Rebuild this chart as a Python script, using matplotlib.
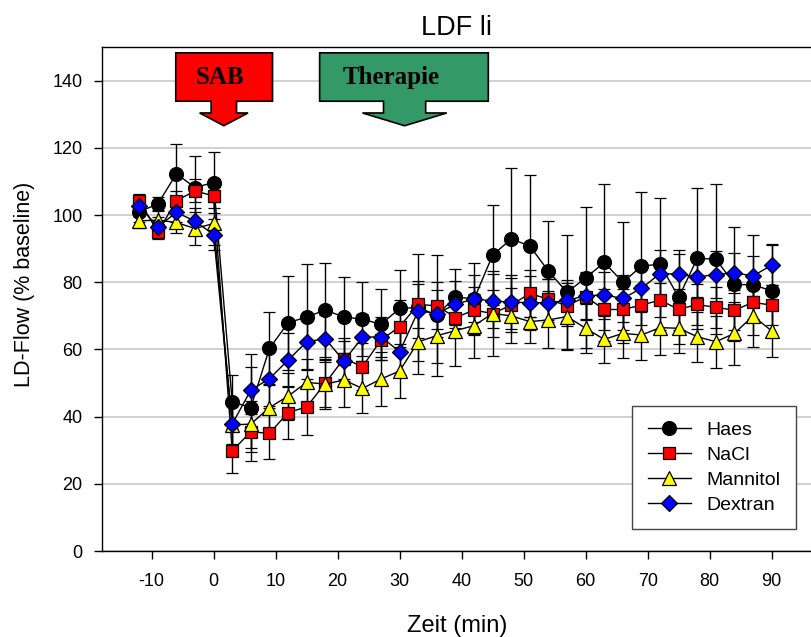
import matplotlib
matplotlib.use("Agg")
import matplotlib.pyplot as plt
from matplotlib.lines import Line2D
from matplotlib.patches import Polygon

plt.rcParams["font.family"] = ["Liberation Sans", "DejaVu Sans"]
plt.rcParams["axes.unicode_minus"] = False

# sampling times (min), SAB at t = 0
zeit = [-12, -9, -6, -3, 0, 3, 6, 9, 12, 15, 18, 21, 24, 27, 30, 33, 36, 39,
        42, 45, 48, 51, 54, 57, 60, 63, 66, 69, 72, 75, 78, 81, 84, 87, 90]

haes = [101.0, 103.3, 112.3, 108.2, 109.7, 44.4, 42.7, 60.3, 67.9, 69.7, 71.7,
        69.7, 69.0, 67.5, 72.2, 72.5, 70.2, 75.7, 75.0, 88.1, 92.9, 90.8, 83.3,
        77.0, 81.3, 85.9, 80.0, 84.8, 85.4, 75.5, 87.1, 86.9, 79.4, 79.2, 77.5]
haes_err = [3, 2, 9, 9.4, 9, 8, 15.8, 11, 14, 15.7, 14, 12, 11, 10.5, 11.6, 16,
            18, 8.4, 10.6, 15, 21, 21, 15, 17, 21, 23.4, 18, 22, 19.6, 14, 21,
            22.4, 17, 15, 13.8]

nacl = [104.3, 95.0, 104.3, 107.2, 105.7, 29.8, 35.5, 35.0, 41.2, 42.9, 49.9,
        57.3, 54.9, 62.8, 66.8, 73.4, 73.0, 69.5, 71.7, 70.7, 73.2, 76.7, 74.9,
        73.0, 75.7, 71.9, 71.9, 73.2, 74.7, 71.9, 73.4, 72.5, 71.7, 74.0, 73.2]
nacl_err = [2, 2, 3, 3.4, 3.5, 6.5, 6, 7.7, 7.8, 8.4, 7, 6, 7, 6, 8, 7, 7, 6,
            7, 7, 8, 7, 6, 6, 7, 6, 6, 6, 5, 6, 6, 6, 6, 5, 6]

mannitol = [98.3, 98.5, 97.8, 96.0, 97.5, 37.5, 37.8, 42.7, 46.1, 50.2, 49.7,
            50.9, 48.4, 51.2, 53.6, 62.3, 64.1, 65.6, 67.1, 70.7, 70.0, 68.3,
            68.8, 69.8, 66.3, 63.0, 64.8, 64.3, 66.5, 66.3, 63.8, 62.3, 64.8,
            70.0, 65.5]
mannitol_err = [2, 3, 3, 5, 6.5, 6, 7, 7, 7, 7, 7.5, 8, 7.2, 8, 8, 9.7, 8,
                10.5, 9.5, 12.7, 8.2, 6.3, 8.5, 10, 7.3, 7, 7.2, 7.5, 8.2, 7.5,
                7.5, 7.7, 9.4, 9.4, 7.7]

dextran = [102.7, 96.5, 100.8, 98.2, 94.2, 37.8, 47.9, 51.3, 56.8, 62.3, 63.2,
           56.6, 63.6, 63.8, 59.3, 71.5, 70.7, 73.4, 75.1, 74.4, 74.1, 73.9,
           73.9, 74.6, 76.0, 76.2, 75.2, 78.2, 82.6, 82.4, 81.6, 82.3, 82.8,
           81.9, 85.1]
dextran_err = [3, 3, 3, 4, 4.5, 6, 7, 8, 8, 8, 7, 6, 7, 6, 7, 8, 7, 7, 7, 8,
               8, 8, 7, 6, 7, 7, 7, 7, 7, 6, 6, 7, 6, 6, 6]

series = [
    ("Haes", haes, haes_err, "o", "black", 10),
    ("NaCl", nacl, nacl_err, "s", "#ff0000", 8.5),
    ("Mannitol", mannitol, mannitol_err, "^", "#ffff00", 10),
    ("Dextran", dextran, dextran_err, "D", "#0000ff", 8.5),
]


def callout(ax, label, x0, x1, y0, y1, stem_c, stem_hw, stem_y, head_hw, tip_y,
            color, text_x):
    """Box with a downward arrow below it, in data coordinates."""
    pts = [(x0, y1), (x1, y1), (x1, y0),
           (stem_c + stem_hw, y0), (stem_c + stem_hw, stem_y),
           (stem_c + head_hw, stem_y), (stem_c, tip_y),
           (stem_c - head_hw, stem_y), (stem_c - stem_hw, stem_y),
           (stem_c - stem_hw, y0), (x0, y0)]
    ax.add_patch(Polygon(pts, closed=True, facecolor=color, edgecolor="black",
                         linewidth=1.2, zorder=6, clip_on=False))
    ax.text(text_x, (y0 + y1) / 2, label, ha="center", va="center",
            fontsize=18, fontweight="bold",
            family=["Liberation Serif", "DejaVu Serif"], zorder=7)


fig = plt.figure(figsize=(8.12, 6.37), dpi=100)
ax = fig.add_axes([0.1256, 0.135, 0.8744, 0.791])

handles = []
for name, vals, err, mk, col, ms in series:
    ax.errorbar(zeit, vals, yerr=err, color="black", linewidth=1.0,
                elinewidth=1.0, capsize=4, capthick=1.0, marker=mk, markersize=ms,
                markerfacecolor=col, markeredgecolor="black", markeredgewidth=0.9,
                zorder=3)
    handles.append(Line2D([], [], color="black", linewidth=1.0, marker=mk,
                          markersize=ms, markerfacecolor=col,
                          markeredgecolor="black", markeredgewidth=0.9,
                          label=name))

ax.set_xlim(-18, 96.5)
ax.set_ylim(0, 150)
ax.set_xticks([-10, 0, 10, 20, 30, 40, 50, 60, 70, 80, 90])
ax.set_yticks([0, 20, 40, 60, 80, 100, 120, 140])
ax.yaxis.grid(True, color="#c8c8c8", linewidth=1.2, zorder=0)
ax.set_axisbelow(True)
ax.tick_params(direction="out", length=6, width=1.0, labelsize=13,
               top=False, right=False)
ax.tick_params(axis="x", pad=10)
ax.tick_params(axis="y", pad=8)
for s in ax.spines.values():
    s.set_linewidth(1.0)

ax.set_xlabel("Zeit (min)", fontsize=17, labelpad=18)
ax.set_ylabel("LD-Flow (% baseline)", fontsize=15.5)
ax.yaxis.set_label_coords(-0.094, 0.53)
ax.set_title("LDF li", fontsize=19.5, pad=9)

callout(ax, "SAB", -6.1, 9.5, 133.9, 148.3, 1.65, 2.05, 130.4, 3.9, 126.6,
        "#ff0000", 1.1)
callout(ax, "Therapie", 17.1, 44.3, 133.9, 148.3, 30.8, 3.4, 130.4, 6.8, 126.6,
        "#339966", 28.7)

leg = ax.legend(handles=handles, loc="lower right", bbox_to_anchor=(0.977, 0.043),
                borderaxespad=0, fontsize=14, handlelength=2.2, labelspacing=0.38,
                borderpad=0.8, fancybox=False, framealpha=1.0, edgecolor="#444444")
leg.get_frame().set_linewidth(1.0)

fig.savefig("out.png", dpi=100)
